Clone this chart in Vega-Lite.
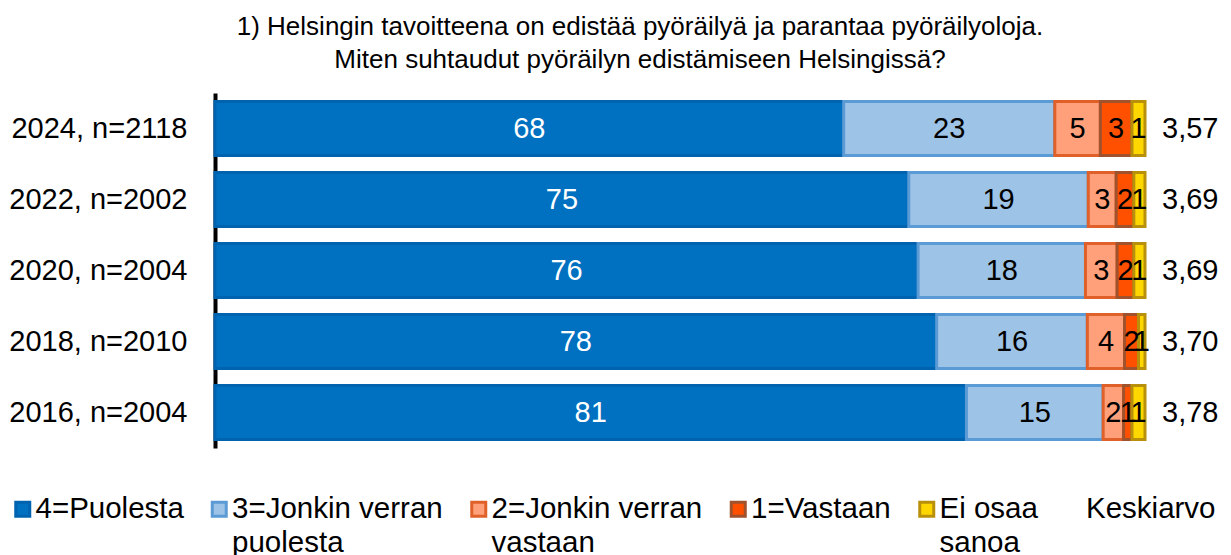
{
  "$schema": "https://vega.github.io/schema/vega-lite/v6.json",
  "width": 930,
  "height": 355,
  "autosize": {"type": "none"},
  "padding": {"left": 215, "top": 93, "right": 86, "bottom": 107},
  "background": "white",
  "config": {
    "font": "Liberation Sans",
    "view": {"stroke": null},
    "locale": {"number": {"decimal": ",", "thousands": " ", "grouping": [3], "currency": ["", " €"]}}
  },
  "title": {
    "text": ["1) Helsingin tavoitteena on edistää pyöräilyä ja parantaa pyöräilyoloja.", "Miten suhtaudut pyöräilyn edistämiseen Helsingissä?"],
    "font": "Liberation Sans",
    "fontSize": 26,
    "fontWeight": "normal",
    "color": "black",
    "lineHeight": 33,
    "anchor": "middle",
    "frame": "group",
    "dx": -40,
    "offset": 20
  },
  "datasets": {
    "seg": [
      {"row": "2024, n=2118", "cat": "4=Puolesta", "ord": 1, "value": 67.6},
      {"row": "2024, n=2118", "cat": "3=Jonkin verran puolesta", "ord": 2, "value": 22.7},
      {"row": "2024, n=2118", "cat": "2=Jonkin verran vastaan", "ord": 3, "value": 4.9},
      {"row": "2024, n=2118", "cat": "1=Vastaan", "ord": 4, "value": 3.4},
      {"row": "2024, n=2118", "cat": "Ei osaa sanoa", "ord": 5, "value": 1.4},
      {"row": "2022, n=2002", "cat": "4=Puolesta", "ord": 1, "value": 74.6},
      {"row": "2022, n=2002", "cat": "3=Jonkin verran puolesta", "ord": 2, "value": 19.3},
      {"row": "2022, n=2002", "cat": "2=Jonkin verran vastaan", "ord": 3, "value": 3.0},
      {"row": "2022, n=2002", "cat": "1=Vastaan", "ord": 4, "value": 1.9},
      {"row": "2022, n=2002", "cat": "Ei osaa sanoa", "ord": 5, "value": 1.2},
      {"row": "2020, n=2004", "cat": "4=Puolesta", "ord": 1, "value": 75.6},
      {"row": "2020, n=2004", "cat": "3=Jonkin verran puolesta", "ord": 2, "value": 18.0},
      {"row": "2020, n=2004", "cat": "2=Jonkin verran vastaan", "ord": 3, "value": 3.4},
      {"row": "2020, n=2004", "cat": "1=Vastaan", "ord": 4, "value": 1.8},
      {"row": "2020, n=2004", "cat": "Ei osaa sanoa", "ord": 5, "value": 1.2},
      {"row": "2018, n=2010", "cat": "4=Puolesta", "ord": 1, "value": 77.6},
      {"row": "2018, n=2010", "cat": "3=Jonkin verran puolesta", "ord": 2, "value": 16.2},
      {"row": "2018, n=2010", "cat": "2=Jonkin verran vastaan", "ord": 3, "value": 4.0},
      {"row": "2018, n=2010", "cat": "1=Vastaan", "ord": 4, "value": 1.5},
      {"row": "2018, n=2010", "cat": "Ei osaa sanoa", "ord": 5, "value": 0.7},
      {"row": "2016, n=2004", "cat": "4=Puolesta", "ord": 1, "value": 80.8},
      {"row": "2016, n=2004", "cat": "3=Jonkin verran puolesta", "ord": 2, "value": 14.7},
      {"row": "2016, n=2004", "cat": "2=Jonkin verran vastaan", "ord": 3, "value": 2.2},
      {"row": "2016, n=2004", "cat": "1=Vastaan", "ord": 4, "value": 0.9},
      {"row": "2016, n=2004", "cat": "Ei osaa sanoa", "ord": 5, "value": 1.4}
    ],
    "mean": [
      {"row": "2024, n=2118", "mean": 3.57},
      {"row": "2022, n=2002", "mean": 3.69},
      {"row": "2020, n=2004", "mean": 3.69},
      {"row": "2018, n=2010", "mean": 3.70},
      {"row": "2016, n=2004", "mean": 3.78}
    ]
  },
  "layer": [
    {
      "data": {"name": "seg"},
      "transform": [
        {"stack": "value", "groupby": ["row"], "sort": [{"field": "ord", "order": "ascending"}], "as": ["x0", "x1"]}
      ],
      "mark": {"type": "bar", "strokeWidth": 3},
      "encoding": {
        "y": {
          "field": "row", "type": "nominal",
          "sort": ["2024, n=2118", "2022, n=2002", "2020, n=2004", "2018, n=2010", "2016, n=2004"],
          "scale": {"paddingInner": 0.24, "paddingOuter": 0.12},
          "axis": {
            "title": null, "ticks": false, "tickSize": 0, "labelPadding": 28,
            "labelFontSize": 29, "labelColor": "black", "labelFont": "Liberation Sans",
            "domainColor": "black", "domainWidth": 4, "grid": false, "labelLimit": 400
          }
        },
        "x": {"field": "x0", "type": "quantitative", "scale": {"domain": [0, 100], "nice": false}, "axis": null},
        "x2": {"field": "x1"},
        "fill": {
          "field": "cat", "type": "nominal",
          "scale": {
            "domain": ["4=Puolesta", "3=Jonkin verran puolesta", "2=Jonkin verran vastaan", "1=Vastaan", "Ei osaa sanoa", "Keskiarvo"],
            "range": ["#0070C0", "#9DC3E6", "#FFA07A", "#FF5000", "#FFD700", "rgba(0,0,0,0)"]
          },
          "legend": {
            "title": null, "orient": "none", "legendX": -207, "legendY": 401, "direction": "horizontal",
            "symbolType": "square", "symbolSize": 196, "symbolStrokeWidth": 3,
            "labelFontSize": 29.5, "labelFont": "Liberation Sans", "labelColor": "black",
            "labelOffset": -2, "columnPadding": 20.5, "labelLimit": 400, "labelBaseline": "middle",
            "labelExpr": "datum.label === '3=Jonkin verran puolesta' ? ['3=Jonkin verran', 'puolesta'] : datum.label === '2=Jonkin verran vastaan' ? ['2=Jonkin verran', 'vastaan'] : datum.label === 'Ei osaa sanoa' ? ['Ei osaa', 'sanoa'] : [datum.label, '']",
            "encode": {"labels": {"update": {"lineHeight": {"value": 34}}}}
          }
        },
        "stroke": {
          "field": "cat", "type": "nominal",
          "scale": {
            "domain": ["4=Puolesta", "3=Jonkin verran puolesta", "2=Jonkin verran vastaan", "1=Vastaan", "Ei osaa sanoa", "Keskiarvo"],
            "range": ["#0063B0", "#5B9BD5", "#E0602A", "#A0522D", "#B8900B", "rgba(0,0,0,0)"]
          },
          "legend": {
            "title": null, "orient": "none", "legendX": -207, "legendY": 401, "direction": "horizontal",
            "symbolType": "square", "symbolSize": 196, "symbolStrokeWidth": 3,
            "labelFontSize": 29.5, "labelFont": "Liberation Sans", "labelColor": "black",
            "labelOffset": -2, "columnPadding": 20.5, "labelLimit": 400, "labelBaseline": "middle",
            "labelExpr": "datum.label === '3=Jonkin verran puolesta' ? ['3=Jonkin verran', 'puolesta'] : datum.label === '2=Jonkin verran vastaan' ? ['2=Jonkin verran', 'vastaan'] : datum.label === 'Ei osaa sanoa' ? ['Ei osaa', 'sanoa'] : [datum.label, '']",
            "encode": {"labels": {"update": {"lineHeight": {"value": 34}}}}
          }
        }
      }
    },
    {
      "data": {"name": "seg"},
      "transform": [
        {"stack": "value", "groupby": ["row"], "sort": [{"field": "ord", "order": "ascending"}], "as": ["x0", "x1"]},
        {"calculate": "(datum.x0 + datum.x1) / 2", "as": "xmid"}
      ],
      "mark": {"type": "text", "fontSize": 29, "font": "Liberation Sans", "baseline": "middle", "align": "center"},
      "encoding": {
        "y": {"field": "row", "type": "nominal", "sort": ["2024, n=2118", "2022, n=2002", "2020, n=2004", "2018, n=2010", "2016, n=2004"]},
        "x": {"field": "xmid", "type": "quantitative"},
        "text": {"field": "value", "type": "quantitative", "format": ".0f"},
        "color": {"condition": {"test": "datum.ord === 1", "value": "white"}, "value": "black"}
      }
    },
    {
      "data": {"name": "mean"},
      "mark": {"type": "text", "fontSize": 29, "font": "Liberation Sans", "baseline": "middle", "align": "left", "dx": 17, "color": "black"},
      "encoding": {
        "y": {"field": "row", "type": "nominal", "sort": ["2024, n=2118", "2022, n=2002", "2020, n=2004", "2018, n=2010", "2016, n=2004"]},
        "x": {"datum": 100, "type": "quantitative"},
        "text": {"field": "mean", "type": "quantitative", "format": ".2f"}
      }
    }
  ]
}
